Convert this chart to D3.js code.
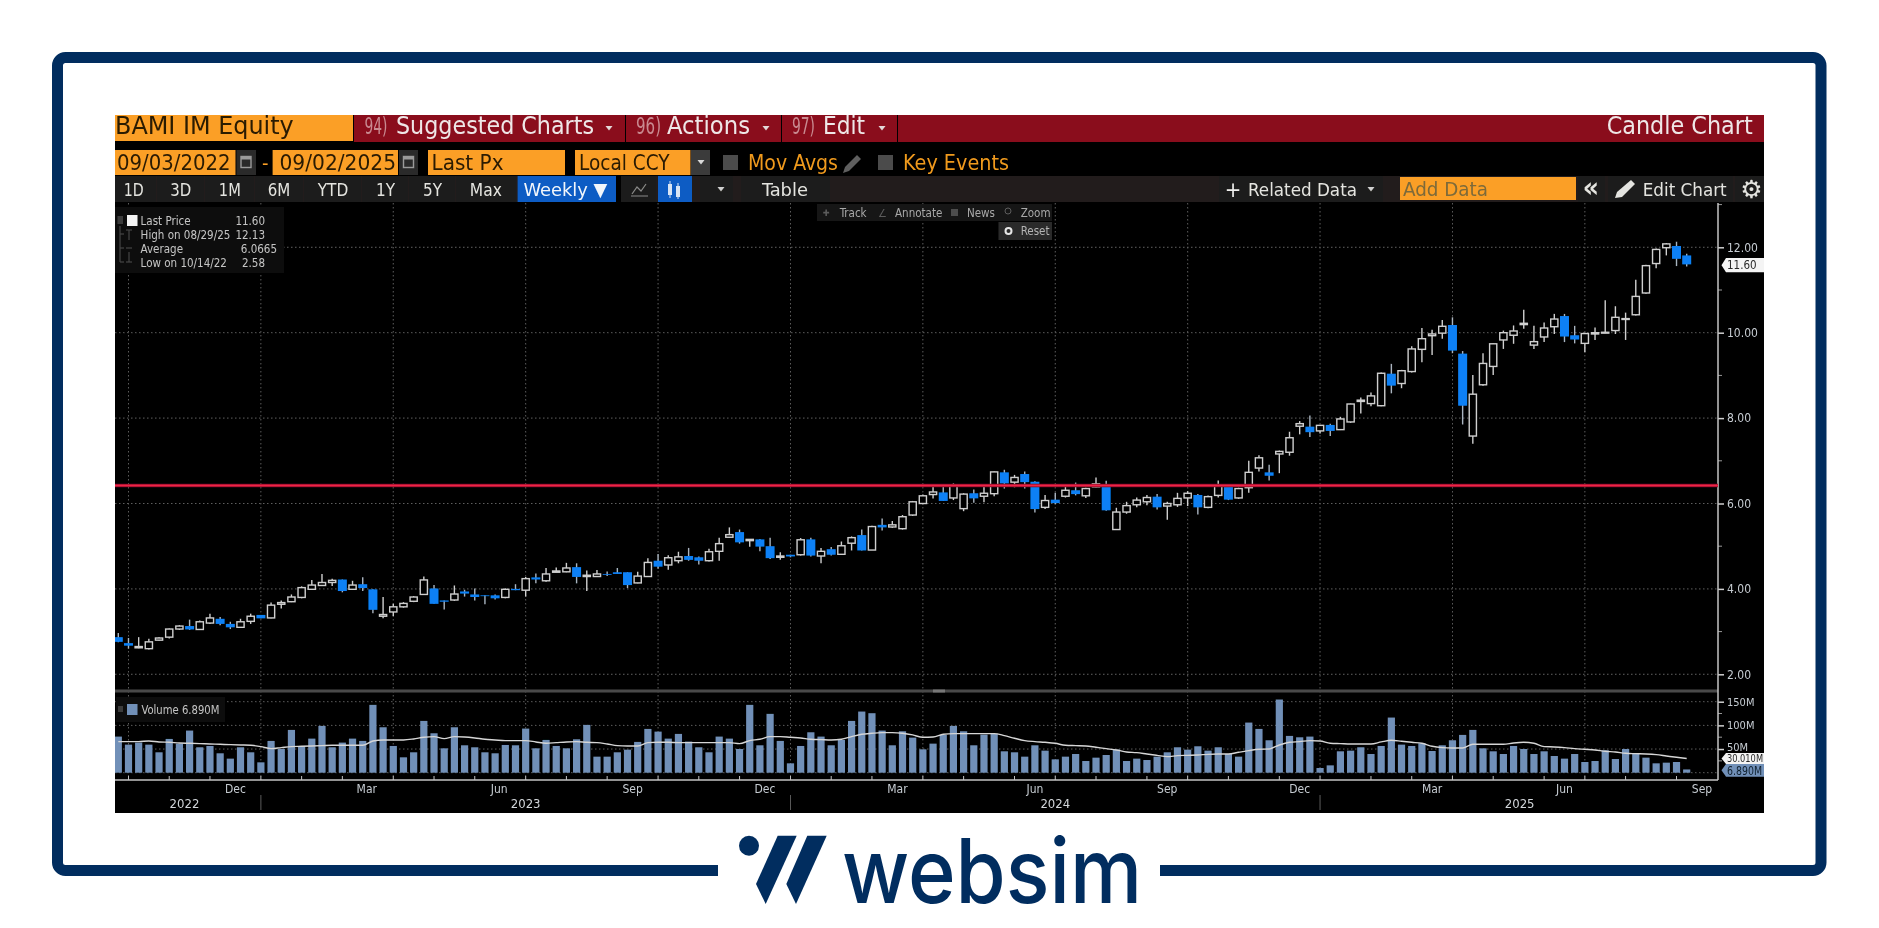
<!DOCTYPE html>
<html>
<head>
<meta charset="utf-8">
<title>BAMI IM Equity</title>
<script src="https://cdn.jsdelivr.net/npm/d3@7"></script>
<style>
    html, body { margin: 0; padding: 0; background: #fff; overflow: hidden; }
    svg { display: block; }
    text { font-family: "DejaVu Sans Condensed", "DejaVu Sans", sans-serif; }
</style>
</head>
<body>
<svg id="chart" width="1879" height="928"></svg>
<script>
// =======================
//  Data
// =======================

var OPEN = [2.87,2.73,2.62,2.60,2.80,2.87,3.06,3.13,3.05,3.20,3.30,3.18,3.10,3.24,3.39,3.32,3.64,3.70,3.80,3.99,4.08,4.15,4.22,3.99,4.11,3.99,3.36,3.46,3.58,3.71,3.87,4.01,3.73,3.74,3.94,3.87,3.85,3.85,3.80,4.00,3.97,
    4.27,4.19,4.39,4.40,4.51,4.29,4.29,4.35,4.39,4.39,4.14,4.29,4.66,4.56,4.66,4.77,4.74,4.66,4.88,5.21,5.33,5.13,5.16,5.00,4.74,4.80,4.80,5.16,4.77,4.93,4.81,5.07,5.26,4.91,5.50,5.45,5.41,5.73,6.00,6.21,6.26,
    6.13,5.88,6.24,6.17,6.23,6.73,6.50,6.69,6.51,5.91,6.09,6.17,6.31,6.18,6.39,6.42,5.39,5.80,5.97,6.04,6.16,5.94,5.97,6.13,6.20,5.91,6.19,6.41,6.13,6.37,6.83,6.73,7.16,7.20,7.81,
    7.80,7.70,7.84,7.73,7.91,8.39,8.34,8.29,9.04,8.81,9.09,9.61,9.93,9.99,10.18,9.51,7.58,8.78,9.21,9.83,9.94,10.19,9.71,9.90,10.14,10.39,9.94,9.75,9.97,9.99,10.05,10.31,10.42,10.93,11.62,11.99,12.03,11.81];

var CLOSE = [2.76,2.67,2.65,2.76,2.85,3.06,3.13,3.05,3.23,3.32,3.18,3.10,3.23,3.36,3.31,3.62,3.68,3.81,4.03,4.09,4.15,4.20,3.95,4.09,4.02,3.51,3.40,3.58,3.66,3.81,4.21,3.65,3.70,3.88,3.89,3.81,3.83,3.78,3.99,3.97,4.24,
    4.22,4.35,4.42,4.49,4.28,4.32,4.35,4.33,4.35,4.09,4.30,4.62,4.52,4.73,4.75,4.68,4.66,4.87,5.06,5.27,5.09,5.16,4.99,4.72,4.77,4.76,5.15,4.78,4.88,4.80,5.01,5.20,4.90,5.46,5.44,5.50,5.69,6.04,6.18,6.27,6.06,
    6.43,6.22,6.12,6.24,6.74,6.47,6.61,6.50,5.87,6.07,6.01,6.31,6.22,6.35,6.46,5.84,5.80,5.95,6.08,6.14,5.91,6.00,6.12,6.24,5.91,6.16,6.41,6.09,6.35,6.73,7.07,6.65,7.22,7.54,7.87,
    7.67,7.83,7.70,7.98,8.33,8.42,8.52,9.05,8.76,9.11,9.62,9.86,9.97,10.15,9.58,8.29,8.56,9.28,9.74,10.00,10.04,10.22,9.79,10.11,10.32,9.91,9.84,9.98,10.00,10.01,10.36,10.33,10.85,11.57,11.95,12.08,11.73,11.60];

var HIGH = [2.97,2.85,2.87,2.83,2.87,3.07,3.15,3.28,3.26,3.42,3.34,3.23,3.30,3.42,3.39,3.68,3.73,3.87,4.06,4.21,4.35,4.24,4.22,4.19,4.27,3.99,3.81,3.65,3.69,3.83,4.29,4.09,3.73,4.08,3.98,4.01,3.85,3.87,4.01,4.11,4.28,
    4.36,4.49,4.50,4.61,4.60,4.43,4.44,4.41,4.49,4.39,4.40,4.72,4.82,4.79,4.87,4.96,4.76,4.94,5.20,5.44,5.39,5.17,5.17,5.20,4.86,4.80,5.19,5.20,4.96,4.98,5.11,5.23,5.39,5.48,5.65,5.59,5.73,6.06,6.21,6.41,6.39,
    6.47,6.24,6.33,6.41,6.75,6.79,6.67,6.75,6.52,6.20,6.25,6.41,6.49,6.37,6.61,6.53,5.90,6.04,6.14,6.20,6.22,6.04,6.25,6.29,6.22,6.19,6.54,6.43,6.37,7.00,7.13,6.91,7.24,7.68,7.93,
    8.06,7.84,7.87,8.03,8.34,8.48,8.60,9.07,9.27,9.13,9.68,10.11,10.07,10.30,10.36,9.57,9.01,9.52,9.75,10.05,10.17,10.54,10.16,10.24,10.44,10.44,10.16,10.00,10.12,10.76,10.62,10.47,11.24,11.59,11.97,12.10,12.13,11.85];

var LOW = [2.75,2.60,2.61,2.58,2.79,2.84,3.04,3.04,3.04,3.18,3.15,3.06,3.09,3.18,3.31,3.31,3.54,3.69,3.78,3.98,4.07,4.07,3.92,3.98,3.95,3.43,3.31,3.36,3.56,3.69,3.87,3.65,3.52,3.72,3.82,3.73,3.64,3.75,3.78,3.97,3.82,
    4.13,4.17,4.39,4.39,4.13,3.95,4.28,4.30,4.35,4.02,4.13,4.28,4.47,4.45,4.60,4.66,4.57,4.64,4.66,5.20,5.06,4.99,4.88,4.70,4.68,4.74,4.78,4.76,4.60,4.78,4.80,4.90,4.90,4.91,5.37,5.43,5.39,5.71,5.98,6.12,6.06,
    6.08,5.82,6.02,6.03,6.17,6.35,6.38,6.35,5.79,5.87,5.98,6.14,6.19,6.13,6.38,5.83,5.39,5.76,5.91,5.96,5.86,5.62,5.92,5.94,5.74,5.89,6.14,6.08,6.11,6.25,6.75,6.54,6.71,7.12,7.62,
    7.56,7.64,7.58,7.72,7.89,8.11,8.28,8.28,8.58,8.70,9.07,9.31,9.48,9.86,9.52,7.85,7.40,8.76,9.01,9.62,9.74,10.09,9.62,9.78,9.97,9.78,9.75,9.54,9.83,9.99,9.97,9.83,10.40,10.91,11.51,11.81,11.56,11.55];

// volume in millions
var VOLUME = [76.3,59.3,63.6,59.3,43.1,71.3,61.4,89.0,53.7,56.5,41.0,29.7,53.7,43.1,21.9,67.1,50.1,90.4,56.5,72.0,98.8,53.7,63.6,72.0,67.1,143.3,96.0,56.5,32.5,43.1,109.4,83.3,51.5,96.0,57.9,53.7,43.1,41.0,58.6,57.9,
    93.2,51.5,69.2,56.5,51.5,70.6,101.0,33.9,33.9,43.1,48.7,65.0,92.5,86.8,72.0,81.9,65.7,53.7,43.1,76.3,72.0,50.1,143.3,57.9,124.3,67.1,19.8,56.5,85.4,76.3,
    57.9,69.2,109.4,129.2,125.7,89.0,57.9,87.5,74.1,49.4,61.4,79.8,98.8,87.5,57.9,80.5,81.9,45.2,43.1,33.9,57.9,46.6,28.2,33.9,39.5,24.7,31.8,37.4,48.7,24.7,
    29.7,26.8,33.9,43.1,53.7,48.7,55.8,46.6,53.7,39.5,33.9,105.9,92.5,68.5,154.6,77.7,74.8,76.3,9.9,15.5,45.2,46.6,53.7,39.5,56.5,116.5,59.3,56.5,62.1,45.9,
    57.9,68.5,79.8,90.4,51.5,45.2,39.5,56.5,50.1,39.5,45.2,35.3,29.7,39.5,22.6,24.7,47.3,28.9,50.1,39.5,31.8,19.8,21.2,22.6,6.89];

var VOLUME_AVG = [65.7,65.7,65.7,67.1,65.0,64.2,62.8,62.1,61.4,60.7,60.0,59.3,58.6,57.9,55.1,50.8,53.0,55.1,55.8,56.5,57.2,57.9,57.9,57.9,57.9,67.1,69.2,69.2,69.2,71.3,74.8,76.3,72.0,76.3,75.5,73.4,70.6,69.2,67.8,67.8,
    67.8,65.0,62.1,63.5,65.0,65.7,64.2,63.5,60.7,57.2,56.5,56.5,63.5,64.2,64.2,63.5,63.5,63.5,63.5,63.5,63.5,61.4,67.8,70.6,76.3,76.3,74.8,73.4,70.6,69.9,
    69.2,70.6,76.3,81.2,83.3,84.7,84.7,83.3,79.8,74.8,75.5,81.2,82.6,82.6,82.6,82.6,82.6,78.4,72.7,67.8,65.7,64.2,62.1,57.9,57.2,56.5,53.7,50.8,48.0,43.8,
    42.4,39.5,36.7,33.9,36.0,36.7,37.4,38.8,39.5,39.5,43.1,46.6,49.4,50.1,58.6,64.2,65.7,67.8,67.1,62.1,61.4,60.7,60.7,60.7,65.0,68.5,66.4,64.2,62.1,55.8,
    53.0,52.2,52.2,60.0,60.0,60.0,60.0,62.8,64.2,62.1,55.1,54.4,53.0,50.8,49.4,48.0,45.2,43.8,41.0,40.2,39.5,38.1,35.3,32.5,30.0];

var REF_LEVEL = 6.42;

var PRICE_TICKS = [2, 4, 6, 8, 10, 12];
var PRICE_MINOR = [3, 5, 7, 9, 11, 13];
var VOLUME_TICKS = [50, 100, 150];
var VOLUME_MINOR = [25, 75, 125];

// candle index of every month tick, every third one carries a gridline
var MONTH_TICKS = [1,5,9,14,18,22,27,31,35,40,44,48,53,57,61,66,70,74,79,83,88,92,96,101,105,109,114,118,123,127,131,135,140,144,148,153];
var GRID_TICKS = [1,14,27,40,53,66,79,92,105,118,131,144];
var MONTH_LABELS = ["Dec","Mar","Jun","Sep","Dec","Mar","Jun","Sep","Dec","Mar","Jun","Sep"];
var MONTH_LABEL_POS = [11.5,24.4,37.4,50.5,63.5,76.5,90,103,116,129,142,155.5];
var YEAR_LABELS = ["2022","2023","2024","2025"];
var YEAR_LABEL_POS = [6.5,40,92,137.6];
var YEAR_BREAKS = [14,66,118];

var LEGEND_ROWS = ["Last Price", "High on 08/29/25", "Average", "Low on 10/14/22"];
var LEGEND_VALUES = ["11.60", "12.13", "6.0665", "2.58"];

var RANGE_BUTTONS = ["1D","3D","1M","6M","YTD","1Y","5Y","Max"];
var RANGE_BUTTON_X = [133.7,180.8,229.8,279,333,385.5,432.6,485.8];
var RANGE_BUTTON_W = [20,21,22,22.6,30.6,19,19,32];
var RANGE_BUTTON_EDGES = [115,157,205,255,304,362,409,456,517];

// =======================
//  Colours
// =======================

var NAVY = '#012d5f';
var ORANGE = '#fb9f26';
var ORANGE_TEXT = '#2a1a05';
var DARK_RED = '#8a0f1f';
var BLUE = '#0a80f5';
var HOLLOW = '#cfcfcf';
var AXIS_TEXT = '#c6ccd2';
var BUTTON = '#1d1d1b';

// =======================
//  Helpers
// =======================

var svg = d3.select("#chart");

function addRect(parent, x0, y0, x1, y1, fill) {
    return parent.append('rect')
        .attr('x', x0).attr('y', y0)
        .attr('width', x1 - x0).attr('height', y1 - y0)
        .attr('fill', fill);
}

function addText(parent, str, x, y, size, fill, width, anchor) {
    var t = parent.append('text')
        .attr('x', x).attr('y', y)
        .attr('font-size', size)
        .attr('fill', fill)
        .attr('text-anchor', anchor || 'start')
        .text(str);
    if (width) {
        t.attr('textLength', width).attr('lengthAdjust', 'spacingAndGlyphs');
    }
    return t;
}

function addPoly(parent, pts, fill) {
    return parent.append('polygon').attr('points', pts.join(' ')).attr('fill', fill);
}

function addArrow(parent, x, y, fill) {
    addPoly(parent, [[x - 3.5, y - 2], [x + 3.5, y - 2], [x, y + 2.5]], fill);
}

// =======================
//  Frame and logo
// =======================

svg.append('rect').attr('width', 1879).attr('height', 928).attr('fill', '#fff');

svg.append('rect')
    .attr('x', 57.5).attr('y', 57.5)
    .attr('width', 1763.5).attr('height', 813)
    .attr('rx', 8)
    .attr('fill', 'none')
    .attr('stroke', NAVY)
    .attr('stroke-width', 11);

addRect(svg, 718, 860, 1160, 880, '#fff');

var logo = svg.append('g');
logo.append('circle').attr('cx', 749).attr('cy', 845.7).attr('r', 10).attr('fill', NAVY);
addPoly(logo, [[777.7,835.7],[796.7,835.7],[765.7,904],[756,884]], NAVY);
addPoly(logo, [[807.3,835.7],[826.7,835.7],[796,904],[786.3,884]], NAVY);
logo.append('text')
    .attr('x', 842).attr('y', 903)
    .attr('font-size', 89)
    .attr('font-weight', 500)
    .attr('fill', NAVY)
    .attr('textLength', 300)
    .attr('lengthAdjust', 'spacingAndGlyphs')
    .style('font-family', 'Inter')
    .text('websim');

// =======================
//  Terminal panel
// =======================

var defs = svg.append('defs');
defs.append('filter').attr('id', 'soft')
    .attr('x', 0).attr('y', 0).attr('width', 1).attr('height', 1)
    .append('feGaussianBlur').attr('stdDeviation', 0.55);
defs.append('clipPath').attr('id', 'plot-clip')
    .append('rect').attr('x', 115).attr('y', 203).attr('width', 1603).attr('height', 580);
defs.append('clipPath').attr('id', 'panel-clip')
    .append('rect').attr('x', 115).attr('y', 115).attr('width', 1649).attr('height', 698);

var panel = svg.append('g').attr('clip-path', 'url(#panel-clip)').attr('filter', 'url(#soft)');
addRect(panel, 115, 115, 1764, 813, '#000');

// Header row
var head = panel.append('g');
addRect(head, 115, 115, 353, 141, ORANGE);
addRect(head, 354, 115, 625, 142, DARK_RED);
addRect(head, 626, 115, 781, 142, DARK_RED);
addRect(head, 782, 115, 897, 142, DARK_RED);
addRect(head, 898, 115, 1764, 142, DARK_RED);
addText(head, 'BAMI IM Equity', 115, 133.5, 24, ORANGE_TEXT, 178.7);
addText(head, '94)', 364.5, 133.5, 23, '#c98a90', 23);
addText(head, 'Suggested Charts', 396, 133.5, 24, '#efe7e7', 198);
addArrow(head, 609, 128, '#e4d8d8');
addText(head, '96)', 636, 133.5, 23, '#c98a90', 25);
addText(head, 'Actions', 667, 133.5, 24, '#efe7e7', 83);
addArrow(head, 766, 128, '#e4d8d8');
addText(head, '97)', 792, 133.5, 23, '#c98a90', 23);
addText(head, 'Edit', 823, 133.5, 24, '#efe7e7', 42);
addArrow(head, 882, 128, '#e4d8d8');
addText(head, 'Candle Chart', 1606.7, 133.5, 24, '#efe7e7', 146);

// Date row
var dateRow = panel.append('g');
addRect(dateRow, 115, 150, 235.5, 175, ORANGE);
addRect(dateRow, 272.6, 150, 398, 175, ORANGE);
addRect(dateRow, 428, 150, 565, 175, ORANGE);
addRect(dateRow, 575, 150, 690.5, 175, ORANGE);
addRect(dateRow, 691, 150, 710, 175, '#3a3a3a');
addArrow(dateRow, 701, 162, '#d8d8d8');
addRect(dateRow, 236.5, 150, 256, 175, '#2c2c2c');
addRect(dateRow, 399, 150, 418, 175, '#2c2c2c');
[241, 403.5].forEach(function(x) {
    dateRow.append('rect').attr('x', x).attr('y', 156.5).attr('width', 10).attr('height', 11)
        .attr('fill', 'none').attr('stroke', '#9a9a9a').attr('stroke-width', 1.4);
    addRect(dateRow, x, 156.5, x + 10, 159.5, '#9a9a9a');
});
addText(dateRow, '09/03/2022', 117, 170, 21, ORANGE_TEXT, 113.5);
addText(dateRow, '-', 262, 170, 20, ORANGE);
addText(dateRow, '09/02/2025', 279.5, 170, 21, ORANGE_TEXT, 116.5);
addText(dateRow, 'Last Px', 431.5, 170, 21, ORANGE_TEXT, 72);
addText(dateRow, 'Local CCY', 579, 170, 21, ORANGE_TEXT, 90.5);
addRect(dateRow, 723, 155, 738, 170, '#4c4c4c');
addText(dateRow, 'Mov Avgs', 748, 170, 21, '#f09a1e', 90);
addPoly(dateRow, [[857,155],[861,159],[849,171],[843,173],[845,167]], '#5e5e5e');
addRect(dateRow, 878, 155, 893, 170, '#4c4c4c');
addText(dateRow, 'Key Events', 903, 170, 21, '#f09a1e', 106);

// Toolbar row
var toolbar = panel.append('g');
addRect(toolbar, 115, 176, 1764, 202, '#211f1b');
RANGE_BUTTONS.forEach(function(label, i) {
    addRect(toolbar, RANGE_BUTTON_EDGES[i], 176, RANGE_BUTTON_EDGES[i + 1] - 1, 202, BUTTON);
    addText(toolbar, label, RANGE_BUTTON_X[i], 196, 18.5, '#e4e4e0', RANGE_BUTTON_W[i], 'middle');
});
addRect(toolbar, 517.6, 176, 616, 202, '#0a5bc4');
addText(toolbar, 'Weekly \u25BC', 565.4, 196, 18.5, '#f2f6fb', 84, 'middle');
addRect(toolbar, 616, 176, 621, 202, '#000');
addRect(toolbar, 621, 176, 656, 202, BUTTON);
toolbar.append('path').attr('d', 'M632 194 L637 187 L641 191 L646 184 M631 196 L648 196')
    .attr('fill', 'none').attr('stroke', '#8a8a8a').attr('stroke-width', 1.2);
addRect(toolbar, 658, 176, 692, 202, '#0a5bc4');
toolbar.append('path').attr('d', 'M670 181 V198 M678 183 V199')
    .attr('fill', 'none').attr('stroke', '#d8e4f4').attr('stroke-width', 1);
addRect(toolbar, 668, 184, 672, 195, '#d8e4f4');
addRect(toolbar, 676, 186, 680, 197, '#d8e4f4');
addRect(toolbar, 700, 176, 733, 202, BUTTON);
addArrow(toolbar, 721, 189, '#cfcfcf');
addRect(toolbar, 741, 176, 830, 202, BUTTON);
addText(toolbar, 'Table', 785, 196, 18.5, '#e4e4e0', 46, 'middle');
addRect(toolbar, 1219, 176, 1383, 202, BUTTON);
addText(toolbar, '+', 1233, 197, 22, '#f0f0ee', null, 'middle');
addText(toolbar, 'Related Data', 1248, 196, 18.5, '#e4e4e0', 109);
addArrow(toolbar, 1371, 189, '#cfcfcf');
addRect(toolbar, 1400, 177, 1576, 200, ORANGE);
addText(toolbar, 'Add Data', 1403, 196, 20, '#7c6a3a', 85);
addRect(toolbar, 1578, 176, 1605, 202, BUTTON);
addText(toolbar, '\u00AB', 1591, 197, 28, '#e4e4e0', null, 'middle').attr('font-weight', 'bold');
addRect(toolbar, 1608, 176, 1733, 202, BUTTON);
addPoly(toolbar, [[1631,180],[1635,184],[1622,197],[1615,198],[1617,192]], '#e4e4e0');
addText(toolbar, 'Edit Chart', 1642.7, 196, 18.5, '#e4e4e0', 84);
addRect(toolbar, 1735, 176, 1764, 202, BUTTON);
addText(toolbar, '\u2699', 1751.5, 198, 25, '#e4e4e0', null, 'middle').style('font-family', 'DejaVu Sans');

// =======================
//  Scales and axes
// =======================

var xScale = d3.scaleLinear().domain([0, OPEN.length - 1]).range([118.3, 1686.7]);
var yPrice = d3.scaleLinear().domain([2, 12]).range([674.3, 247.3]);
var yVolume = d3.scaleLinear().domain([0, 150]).range([772.7, 701.7]);

var plot = panel.append('g');

// Panel grid
var gridColor = '#5e5e5e';

plot.selectAll('line.vgrid')
    .data(GRID_TICKS)
    .join('line')
    .attr('class', 'vgrid')
    .attr('x1', d => xScale(d)).attr('x2', d => xScale(d))
    .attr('y1', 203).attr('y2', 780)
    .attr('stroke', gridColor)
    .attr('stroke-dasharray', '1.5,2.5');

plot.selectAll('line.pgrid')
    .data(PRICE_TICKS)
    .join('line')
    .attr('class', 'pgrid')
    .attr('x1', 115).attr('x2', 1718)
    .attr('y1', d => yPrice(d)).attr('y2', d => yPrice(d))
    .attr('stroke', gridColor)
    .attr('stroke-dasharray', '1.5,2.5');

plot.selectAll('line.vhgrid')
    .data([0].concat(VOLUME_TICKS))
    .join('line')
    .attr('class', 'vhgrid')
    .attr('x1', 115).attr('x2', 1718)
    .attr('y1', d => yVolume(d)).attr('y2', d => yVolume(d))
    .attr('stroke', gridColor)
    .attr('stroke-dasharray', '1.5,2.5');

// Separator between the two panes
addRect(plot, 115, 689.5, 1718, 692.5, '#4a4a4a');
addRect(plot, 933, 689.5, 945, 692.5, '#777');

// Price axis
var priceAxis = d3.axisRight(yPrice)
    .tickValues(PRICE_TICKS)
    .tickFormat(d3.format('.2f'))
    .tickSize(6)
    .tickPadding(3);

var priceAxisG = plot.append('g').attr('transform', 'translate(1718,0)').call(priceAxis);
priceAxisG.select('.domain').remove();
priceAxisG.selectAll('line').attr('stroke', '#cfcfcf').attr('stroke-width', 1.5);
priceAxisG.selectAll('text').attr('fill', AXIS_TEXT).attr('font-size', 12).attr('font-family', null);

plot.selectAll('line.pminor')
    .data(PRICE_MINOR)
    .join('line')
    .attr('class', 'pminor')
    .attr('x1', 1718).attr('x2', 1722)
    .attr('y1', d => yPrice(d)).attr('y2', d => yPrice(d))
    .attr('stroke', '#9a9a9a');

// Volume axis
var volumeAxis = d3.axisRight(yVolume)
    .tickValues(VOLUME_TICKS)
    .tickFormat(d => d + 'M')
    .tickSize(6)
    .tickPadding(3);

var volumeAxisG = plot.append('g').attr('transform', 'translate(1718,0)').call(volumeAxis);
volumeAxisG.select('.domain').remove();
volumeAxisG.selectAll('line').attr('stroke', '#cfcfcf').attr('stroke-width', 1.5);
volumeAxisG.selectAll('text').attr('fill', AXIS_TEXT).attr('font-size', 11).attr('font-family', null);
// the 50M label sits right above the average tag
volumeAxisG.selectAll('text').filter(d => d === 50).attr('y', -2);

plot.selectAll('line.vminor')
    .data(VOLUME_MINOR)
    .join('line')
    .attr('class', 'vminor')
    .attr('x1', 1718).attr('x2', 1722)
    .attr('y1', d => yVolume(d)).attr('y2', d => yVolume(d))
    .attr('stroke', '#9a9a9a');

// Axis lines
plot.append('line').attr('x1', 1718).attr('x2', 1718).attr('y1', 203).attr('y2', 780)
    .attr('stroke', '#c4c4c4').attr('stroke-width', 1.5);
plot.append('line').attr('x1', 115).attr('x2', 1718).attr('y1', 780).attr('y2', 780)
    .attr('stroke', '#c4c4c4').attr('stroke-width', 1.5);

// Month ticks below the volume pane
plot.selectAll('line.mtick')
    .data(MONTH_TICKS)
    .join('line')
    .attr('class', 'mtick')
    .attr('x1', d => xScale(d)).attr('x2', d => xScale(d))
    .attr('y1', 776).attr('y2', 780)
    .attr('stroke', '#c4c4c4');

plot.selectAll('text.month')
    .data(MONTH_LABELS)
    .join('text')
    .attr('class', 'month')
    .attr('x', (d, i) => xScale(MONTH_LABEL_POS[i]))
    .attr('y', 793)
    .attr('text-anchor', 'middle')
    .attr('font-size', 12)
    .attr('fill', AXIS_TEXT)
    .text(d => d);

plot.selectAll('text.year')
    .data(YEAR_LABELS)
    .join('text')
    .attr('class', 'year')
    .attr('x', (d, i) => xScale(YEAR_LABEL_POS[i]))
    .attr('y', 808)
    .attr('text-anchor', 'middle')
    .attr('font-size', 13)
    .attr('fill', '#d2d6da')
    .text(d => d);

plot.selectAll('line.ybreak')
    .data(YEAR_BREAKS)
    .join('line')
    .attr('class', 'ybreak')
    .attr('x1', d => xScale(d)).attr('x2', d => xScale(d))
    .attr('y1', 795).attr('y2', 810)
    .attr('stroke', '#5c5c5c');

// =======================
//  Candles and volume
// =======================

var marks = panel.append('g').attr('clip-path', 'url(#plot-clip)');

var bars = marks.append('g').selectAll('rect')
    .data(VOLUME)
    .join('rect')
    .attr('x', (d, i) => xScale(i) - 3.6)
    .attr('y', d => yVolume(d))
    .attr('width', 7.2)
    .attr('height', d => yVolume(0) - yVolume(d))
    .attr('fill', '#7190b8');

var volumeLine = d3.line()
    .x((d, i) => xScale(i))
    .y(d => yVolume(d))
    .curve(d3.curveMonotoneX);

marks.append('path')
    .datum(VOLUME_AVG)
    .attr('d', volumeLine)
    .attr('fill', 'none')
    .attr('stroke', '#d6d6d6')
    .attr('stroke-width', 1.4);

var candles = marks.append('g').selectAll('g')
    .data(OPEN.map((d, i) => ({ i: i, open: d, close: CLOSE[i], high: HIGH[i], low: LOW[i] })))
    .join('g');

candles.append('line')
    .attr('x1', d => xScale(d.i)).attr('x2', d => xScale(d.i))
    .attr('y1', d => yPrice(d.high)).attr('y2', d => yPrice(d.low))
    .attr('stroke', d => d.close < d.open ? '#a9b4c0' : HOLLOW)
    .attr('stroke-width', 1.4);

candles.append('rect')
    .attr('x', d => xScale(d.i) - (d.close < d.open ? 4.5 : 3.6))
    .attr('y', d => yPrice(Math.max(d.open, d.close)))
    .attr('width', d => d.close < d.open ? 9 : 7.2)
    .attr('height', d => Math.abs(yPrice(d.open) - yPrice(d.close)))
    .attr('fill', d => d.close < d.open ? BLUE : '#000')
    .attr('stroke', d => d.close < d.open ? 'none' : HOLLOW)
    .attr('stroke-width', 1.4);

// Red reference level
panel.append('line')
    .attr('x1', 115).attr('x2', 1718)
    .attr('y1', yPrice(REF_LEVEL)).attr('y2', yPrice(REF_LEVEL))
    .attr('stroke', '#7a0c1c').attr('stroke-width', 3.6);
panel.append('line')
    .attr('x1', 115).attr('x2', 1718)
    .attr('y1', yPrice(REF_LEVEL)).attr('y2', yPrice(REF_LEVEL))
    .attr('stroke', '#ee2049').attr('stroke-width', 2);

// =======================
//  Value tags on the axes
// =======================

function addTag(parent, value, y0, y1, fill, textFill, size, width) {
    var mid = (y0 + y1) / 2;
    addPoly(parent, [[1721.5, mid], [1726, y0], [1764, y0], [1764, y1], [1726, y1]], fill);
    addText(parent, value, 1727, mid + size * 0.37, size, textFill, width);
}

addTag(panel, '11.60', 258, 272.3, '#f4f4f4', '#2a2a2a', 11.5);
addTag(panel, '30.010M', 753, 764, '#f4f4f4', '#2a2a2a', 10, 36);
addTag(panel, '6.890M', 764, 776.7, '#7190b8', '#10202f', 11.5, 35);

// =======================
//  Floating legends
// =======================

var legend = panel.append('g');
addRect(legend, 115, 207, 284, 273, '#111110');
addRect(legend, 117.5, 216, 123, 224, '#3a3a3a');
addRect(legend, 127, 215, 137.5, 226, '#f4f4f4');
legend.append('path')
    .attr('d', 'M120 226 V262 M120 234 H124 M120 248 H124 M120 262 H124 M129 230 V240 M126 230 H132 M132 248 H126 M129 252 V262 M126 262 H132')
    .attr('fill', 'none').attr('stroke', '#4a4a4a');
legend.selectAll('text.row')
    .data(LEGEND_ROWS)
    .join('text')
    .attr('class', 'row')
    .attr('x', 140.6)
    .attr('y', (d, i) => 224.8 + i * 14)
    .attr('font-size', 11.5)
    .attr('fill', '#c4c4c4')
    .text(d => d);
legend.selectAll('text.val')
    .data(LEGEND_VALUES)
    .join('text')
    .attr('class', 'val')
    .attr('x', (d, i) => i === 2 ? 277 : 265)
    .attr('y', (d, i) => 224.8 + i * 14)
    .attr('font-size', 11.5)
    .attr('text-anchor', 'end')
    .attr('fill', '#c4c4c4')
    .text(d => d);

var tools = panel.append('g');
addRect(tools, 816.7, 204, 1052, 221, '#161616');
addText(tools, '\u271A', 823, 216, 9, '#5c5c5c');
addText(tools, 'Track', 839.7, 216.5, 11.5, '#a9a9a9');
addText(tools, '\u2220', 878, 216.5, 11, '#5c5c5c');
addText(tools, 'Annotate', 895, 216.5, 11.5, '#a9a9a9');
addRect(tools, 951, 209, 958, 216, '#4e4e4e');
addText(tools, 'News', 967, 216.5, 11.5, '#a9a9a9');
tools.append('circle').attr('cx', 1008).attr('cy', 211).attr('r', 3)
    .attr('fill', 'none').attr('stroke', '#5c5c5c');
addText(tools, 'Zoom', 1020.7, 216.5, 11.5, '#a9a9a9');
addRect(tools, 998.5, 222, 1052, 240, '#2a2a2a');
tools.append('circle').attr('cx', 1008.5).attr('cy', 231).attr('r', 3)
    .attr('fill', '#2a2a2a').attr('stroke', '#e6e6e6').attr('stroke-width', 2);
addText(tools, 'Reset', 1020.7, 235, 11.5, '#b4b4b4');

var volumeLegend = panel.append('g');
addRect(volumeLegend, 115.7, 697, 225, 722, '#111110');
addRect(volumeLegend, 118, 706, 123, 712, '#3a3a3a');
addRect(volumeLegend, 127, 704, 137.5, 715, '#7190b8');
addText(volumeLegend, 'Volume 6.890M', 141.4, 714, 12, '#c4c4c4', 78);
</script>
</body>
</html>
